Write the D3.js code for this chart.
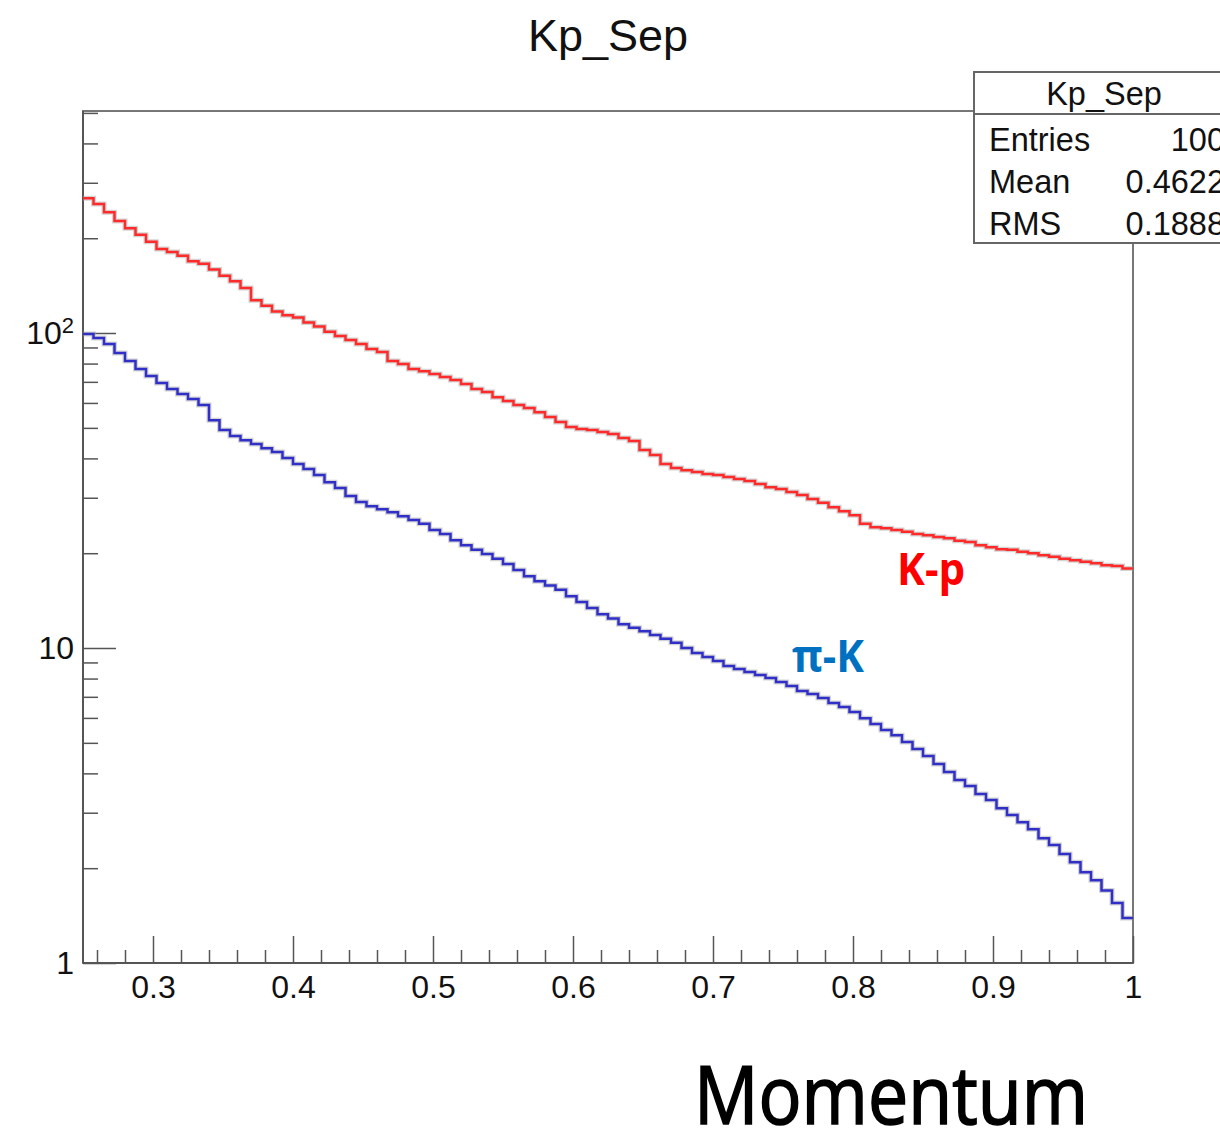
<!DOCTYPE html>
<html>
<head>
<meta charset="utf-8">
<title>Kp_Sep</title>
<style>
    body { margin: 0; background: white; }
    svg { display: block; font-family: "Liberation Sans", Arial, sans-serif; }

    .axis path.domain { display: none; }
    .axis line { stroke: #555; stroke-width: 1.5px; }
    .axis text {
        fill: #111;
        font: 32px "Liberation Sans", Arial, sans-serif;
    }

    .frame { fill: none; stroke: #777; stroke-width: 2px; }

    .halo { fill: none; stroke: #aaa; stroke-width: 5px; opacity: 0.5; }
    .hist { fill: none; stroke-width: 2.5px; }

    .stats rect { fill: white; stroke: #666; stroke-width: 2px; }
    .stats line { stroke: #666; stroke-width: 2px; }
    .stats text { font-size: 32.5px; fill: #111; }
</style>
</head>
<body>
<svg></svg>
<script src="https://cdn.jsdelivr.net/npm/d3@7"></script>
<script>

    // histogram binning: 100 bins between 0.25 and 1.0
    var binLow = 0.25, binHigh = 1.0, nBins = 100;

    // K-p separation per bin (red)
    var kpSep = [
        268, 257, 242, 227, 215, 205, 195, 185, 181, 176,
        169, 166, 159, 152, 146, 139, 127, 122, 117, 114,
        112, 108, 105, 101, 97.8, 95.0, 92.3, 89.0, 87.0, 81.5,
        79.7, 76.9, 75.7, 74.1, 72.5, 70.9, 68.9, 66.4, 65.0, 62.6,
        60.8, 59.1, 57.8, 56.1, 54.1, 52.2, 50.3, 49.6, 49.2, 48.5,
        47.8, 46.4, 45.4, 42.5, 41.0, 38.4, 37.3, 36.7, 36.2, 35.7,
        35.4, 34.9, 34.4, 33.9, 33.2, 32.4, 32.0, 31.3, 30.6, 29.7,
        28.9, 28.0, 27.2, 26.4, 24.8, 24.2, 24.0, 23.7, 23.4, 23.0,
        22.8, 22.5, 22.3, 21.9, 21.7, 21.2, 20.9, 20.6, 20.5, 20.2,
        20.0, 19.7, 19.5, 19.2, 19.0, 18.8, 18.6, 18.3, 18.2, 17.9
    ];

    // pi-K separation per bin (blue)
    var piKSep = [
        99.3, 96.4, 92.3, 86.4, 81.5, 76.9, 73.0, 69.4, 66.4, 64.0,
        61.7, 59.1, 52.9, 49.2, 47.1, 45.7, 44.4, 43.1, 41.9, 40.1,
        38.4, 37.0, 35.4, 33.6, 32.2, 30.4, 29.1, 28.2, 27.6, 27.0,
        26.2, 25.5, 24.8, 23.7, 23.0, 22.0, 21.2, 20.5, 19.9, 19.2,
        18.5, 17.7, 16.9, 16.3, 15.8, 15.3, 14.6, 14.0, 13.4, 12.8,
        12.4, 11.9, 11.6, 11.3, 11.0, 10.7, 10.4, 10.0, 9.64, 9.36,
        9.09, 8.77, 8.58, 8.39, 8.21, 8.03, 7.80, 7.57, 7.30, 7.14,
        6.94, 6.69, 6.50, 6.26, 5.99, 5.74, 5.49, 5.29, 5.03, 4.78,
        4.54, 4.28, 4.04, 3.81, 3.65, 3.44, 3.29, 3.10, 2.95, 2.80,
        2.66, 2.49, 2.37, 2.22, 2.09, 1.94, 1.83, 1.70, 1.55, 1.39
    ];

    var xMajorTicks = [0.3, 0.4, 0.5, 0.6, 0.7, 0.8, 0.9, 1.0];
    var xTickLabels = ["0.3", "0.4", "0.5", "0.6", "0.7", "0.8", "0.9", "1"];
    var yMajorTicks = [1, 10, 100];
    var yMax = 507;

    var statsNames = ["Entries", "Mean", "RMS"];
    var statsValues = ["100", "0.4622", "0.1888"];

    var svg = d3.select("svg")
        .attr("width", 1220)
        .attr("height", 1132);

    var frame = {left: 83, right: 1133, top: 111, bottom: 963};

    var x = d3.scaleLinear()
        .domain([binLow, binHigh])
        .range([frame.left, frame.right]);

    var y = d3.scaleLog()
        .domain([1, yMax])
        .range([frame.bottom, frame.top]);

    // title
    svg.append("text")
        .attr("x", 608)
        .attr("y", 51)
        .attr("text-anchor", "middle")
        .style("font-size", "45px")
        .style("fill", "#111")
        .text("Kp_Sep");

    // frame
    svg.append("rect")
        .attr("class", "frame")
        .attr("x", frame.left)
        .attr("y", frame.top)
        .attr("width", frame.right - frame.left)
        .attr("height", frame.bottom - frame.top);

    // minor ticks
    var xMinor = d3.range(13, 51).map(function (k) { return k * 0.02; })
        .filter(function (v) { return Math.abs(v * 10 - Math.round(v * 10)) > 1e-6; });

    var yMinor = [];
    [1, 10, 100].forEach(function (dec) {
        for (var m = 2; m <= 9; m++) if (dec * m <= yMax) yMinor.push(dec * m);
    });

    svg.append("g")
        .attr("class", "axis axis--x-minor")
        .attr("transform", "translate(0," + frame.bottom + ")")
        .call(d3.axisBottom(x).tickValues(xMinor).tickSize(-13).tickFormat(""));

    svg.append("g")
        .attr("class", "axis axis--x")
        .attr("transform", "translate(0," + frame.bottom + ")")
        .call(d3.axisBottom(x).tickValues(xMajorTicks).tickSize(-27).tickPadding(12)
            .tickFormat(function (d, i) { return xTickLabels[i]; }));

    svg.append("g")
        .attr("class", "axis axis--y-minor")
        .attr("transform", "translate(" + frame.left + ",0)")
        .call(d3.axisLeft(y).tickValues(yMinor).tickSize(-15).tickFormat(""));

    var yAxis = svg.append("g")
        .attr("class", "axis axis--y")
        .attr("transform", "translate(" + frame.left + ",0)")
        .call(d3.axisLeft(y).tickValues(yMajorTicks).tickSize(-33).tickPadding(9)
            .tickFormat(function (d) { return d === 100 ? "10" : String(d); }));

    yAxis.selectAll(".tick text")
        .filter(function (d) { return d === 100; })
        .append("tspan")
        .attr("dy", "-0.5em")
        .style("font-size", "22px")
        .text("2");

    // axis lines (left & bottom), darker than frame
    svg.append("line")
        .attr("x1", frame.left).attr("x2", frame.left)
        .attr("y1", frame.top).attr("y2", frame.bottom)
        .style("stroke", "#555").style("stroke-width", 2);
    svg.append("line")
        .attr("x1", frame.left).attr("x2", frame.right)
        .attr("y1", frame.bottom).attr("y2", frame.bottom)
        .style("stroke", "#555").style("stroke-width", 2);

    // histograms as step lines
    var edges = d3.range(nBins + 1).map(function (i) {
        return binLow + i * (binHigh - binLow) / nBins;
    });

    function stepPoints(values) {
        var pts = values.map(function (v, i) { return [edges[i], v]; });
        pts.push([edges[nBins], values[values.length - 1]]);
        return pts;
    }

    var line = d3.line()
        .x(function (d) { return x(d[0]); })
        .y(function (d) { return y(d[1]); })
        .curve(d3.curveStepAfter);

    var series = [
        {key: "Kp", values: kpSep, color: "#ff2a2a"},
        {key: "piK", values: piKSep, color: "#3030c8"}
    ];

    series.forEach(function (s) {
        svg.append("path")
            .attr("class", "halo")
            .attr("d", line(stepPoints(s.values)));
        svg.append("path")
            .attr("class", "hist")
            .style("stroke", s.color)
            .attr("d", line(stepPoints(s.values)));
    });

    // series labels
    svg.append("text")
        .attr("x", 897)
        .attr("y", 585)
        .attr("textLength", 68)
        .attr("lengthAdjust", "spacingAndGlyphs")
        .style("font", "bold 44px 'Open Sans', sans-serif")
        .style("fill", "#ff0000")
        .text("K-p");

    svg.append("text")
        .attr("x", 792)
        .attr("y", 672)
        .attr("textLength", 72)
        .attr("lengthAdjust", "spacingAndGlyphs")
        .style("font", "bold 44px 'Open Sans', sans-serif")
        .style("fill", "#0070c0")
        .text("\u03c0-K");

    // stats box
    var stats = svg.append("g").attr("class", "stats");

    stats.append("rect")
        .attr("x", 974)
        .attr("y", 72)
        .attr("width", 270)
        .attr("height", 171);

    stats.append("line")
        .attr("x1", 974).attr("x2", 1244)
        .attr("y1", 114).attr("y2", 114);

    stats.append("text")
        .attr("x", 1104)
        .attr("y", 105)
        .attr("text-anchor", "middle")
        .text("Kp_Sep");

    statsNames.forEach(function (name, i) {
        stats.append("text")
            .attr("x", 989)
            .attr("y", 151 + i * 42)
            .text(name);
        stats.append("text")
            .attr("x", 1225)
            .attr("y", 151 + i * 42)
            .attr("text-anchor", "end")
            .text(statsValues[i]);
    });

    // x axis title
    svg.append("text")
        .attr("x", 694)
        .attr("y", 1124)
        .attr("textLength", 394)
        .attr("lengthAdjust", "spacingAndGlyphs")
        .style("font", "80px 'Open Sans', sans-serif")
        .style("fill", "#000")
        .style("stroke", "#000")
        .style("stroke-width", "1.6px")
        .text("Momentum");

</script>
</body>
</html>
